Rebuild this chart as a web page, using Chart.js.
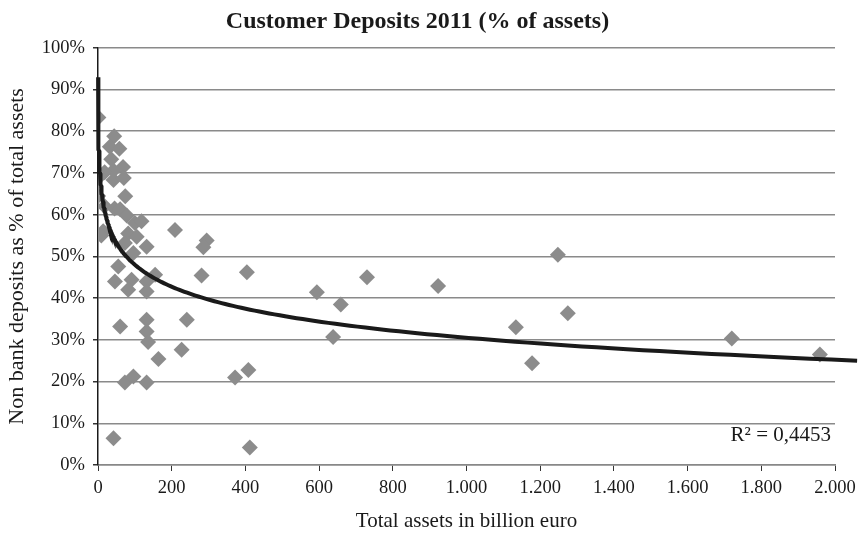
<!DOCTYPE html>
<html><head><meta charset="utf-8">
<script src="https://cdn.jsdelivr.net/npm/chart.js@4"></script>
<style>html,body{margin:0;padding:0;background:#fff}</style>
</head><body>
<canvas id="c" width="865" height="538"></canvas>
<script>
// Total assets (billion euro) of each bank
const assets = [
  1, 44, 32, 58, 36, 68, 42, 18, 5, 42, 70, 74, 0.3, 18, 45, 60, 78, 100, 118, 14,
  82, 9, 105, 73, 132, 96, 55, 155, 132, 46, 91, 82, 132, 60, 132, 132, 136, 164, 73, 96,
  132, 42, 209, 295, 286, 281, 241, 227, 404, 372, 408, 412,
  594, 659, 638, 730, 923, 1134, 1178, 1248, 1275, 1720, 1959
];
// Non bank deposits as % of total assets
const deposits = [
  83.3, 78.8, 76.3, 75.8, 73.3, 71.4, 70.6, 70.2, 69.2, 68.3, 68.8, 64.4, 64.5, 62.0, 61.5, 61.3, 59.8, 58.0, 58.4, 56.0,
  55.5, 55.0, 54.7, 53.2, 52.3, 50.8, 47.6, 45.6, 44.0, 44.0, 44.4, 42.0, 41.6, 33.2, 34.8, 32.0, 29.5, 25.4, 19.8, 21.2,
  19.8, 6.4, 56.3, 53.8, 52.2, 45.4, 34.8, 27.6, 46.2, 21.0, 22.8, 4.2,
  41.4, 38.5, 30.7, 45.0, 42.9, 33.0, 24.4, 50.4, 36.4, 30.3, 26.5
];
const yTicks = [0, 10, 20, 30, 40, 50, 60, 70, 80, 90, 100];
const xTicks = [0, 200, 400, 600, 800, 1000, 1200, 1400, 1600, 1800, 2000];
const r2Label = 'R\u00B2 = 0,4453';
// logarithmic trendline as printed in the chart
const trendSlope = -7.6;
const trendIntercept = 83.0;
const trendStart = 0.27;
const trendEnd = 2060;

const trend = [];
const lastInside = 1990;
for (let k = 0; k <= 300; k++) {
  const x = Math.exp(Math.log(trendStart) + (Math.log(lastInside) - Math.log(trendStart)) * k / 300);
  trend.push({x: x, y: trendSlope * Math.log(x) + trendIntercept});
}
trend.push({x: trendEnd, y: trendSlope * Math.log(trendEnd) + trendIntercept});
const pts = assets.map((a, i) => ({x: a, y: deposits[i]}));

const fmtThousands = v => String(v).replace(/\B(?=(\d{3})+(?!\d))/g, '.');
const serif = 'Liberation Serif';

const r2Plugin = {
  id: 'r2',
  afterDatasetsDraw(chart) {
    const ctx = chart.ctx, a = chart.chartArea;
    ctx.save();
    ctx.font = '21px "' + serif + '"';
    ctx.fillStyle = '#1a1a1a';
    ctx.textAlign = 'right';
    ctx.textBaseline = 'alphabetic';
    ctx.fillText(r2Label, a.right - 4, 441);
    ctx.restore();
  }
};

new Chart(document.getElementById('c'), {
  type: 'scatter',
  data: {
    datasets: [
      {
        type: 'line', data: trend, borderColor: '#1a1a1a', borderWidth: 4,
        pointRadius: 0, fill: false, tension: 0, order: 0, clip: false
      },
      {
        data: pts, pointStyle: 'rectRot', pointRadius: 8,
        backgroundColor: '#8c8c8c', borderColor: '#8c8c8c', borderWidth: 0, order: 1
      }
    ]
  },
  options: {
    responsive: false, animation: false, devicePixelRatio: 1,
    layout: {padding: {left: 0, right: 30, top: 0, bottom: 0}},
    plugins: {
      legend: {display: false}, tooltip: {enabled: false},
      title: {
        display: true, text: 'Customer Deposits 2011 (% of assets)',
        color: '#1a1a1a', font: {family: serif, size: 24, weight: 'bold'},
        padding: {top: 7, bottom: 12}
      }
    },
    scales: {
      x: {
        type: 'linear', min: 0, max: 2000,
        afterBuildTicks: s => { s.ticks = xTicks.map(v => ({value: v})); },
        ticks: {callback: v => fmtThousands(v), color: '#1a1a1a', font: {family: serif, size: 18.5}, maxRotation: 0, padding: 6},
        grid: {drawOnChartArea: false, drawTicks: true, tickLength: 6, color: '#333'},
        border: {color: '#888', width: 1.5},
        title: {display: true, text: 'Total assets in billion euro', color: '#1a1a1a', font: {family: serif, size: 21}, padding: {top: 4}},
        afterFit: s => { s.height = 73; }
      },
      y: {
        type: 'linear', min: 0, max: 100,
        afterBuildTicks: s => { s.ticks = yTicks.map(v => ({value: v})); },
        ticks: {callback: v => v + '%', color: '#1a1a1a', font: {family: serif, size: 18.5}, padding: 8},
        grid: {color: '#8a8a8a', lineWidth: 1.5, tickLength: 5, tickColor: '#333'},
        border: {color: '#1a1a1a', width: 1.5},
        title: {display: true, text: 'Non bank deposits as % of total assets', color: '#1a1a1a', font: {family: serif, size: 22}, padding: {bottom: 2}},
        afterFit: s => { s.width = 98; }
      }
    }
  },
  plugins: [r2Plugin]
});
</script>
</body></html>
